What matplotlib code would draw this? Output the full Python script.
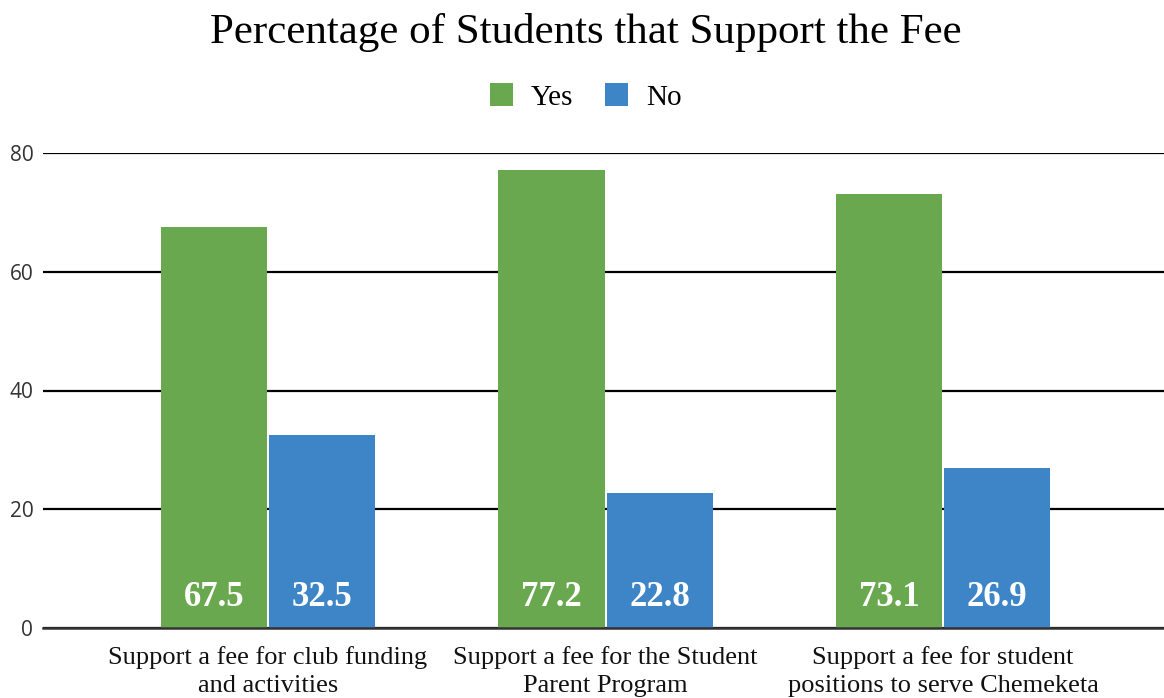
import matplotlib.pyplot as plt
import numpy as np

categories = ['Support a fee for club funding\nand activities',
              'Support a fee for the Student\nParent Program',
              'Support a fee for student\npositions to serve Chemeketa']
yes_values = [67.5, 77.2, 73.1]
no_values = [32.5, 22.8, 26.9]
yticks = [0, 20, 40, 60, 80]

green = '#6aa84f'
blue = '#3d85c6'

fig = plt.figure(figsize=(11.64, 6.98), dpi=100)
ax = fig.add_axes([43 / 1164, 1 - 628 / 698, 1 - 43 / 1164, (628 - 153) / 698])

x = np.arange(len(categories))
w = 0.314
b1 = ax.bar(x - w / 2 - 0.003, yes_values, w, color=green, label='Yes', zorder=3)
b2 = ax.bar(x + w / 2 + 0.003, no_values, w, color=blue, label='No', zorder=3)

for bars, vals in [(b1, yes_values), (b2, no_values)]:
    for bar, v in zip(bars, vals):
        ax.annotate(f'{v}', (bar.get_x() + bar.get_width() / 2, 0),
                    xytext=(0, 22), textcoords='offset points',
                    ha='center', va='center', color='white',
                    fontsize=25, fontweight='bold', family='Liberation Serif', zorder=4)

ax.set_xlim(-0.666, 2.654)
ax.set_ylim(0, 80)
ax.set_yticks(yticks)
ax.set_yticklabels([str(t) for t in yticks], fontsize=15, color='#333333', family='Open Sans')
ax.set_xticks(x)
ax.set_xticklabels(categories, fontsize=19, family='Liberation Serif', color='#111111',
                   linespacing=1.35)
ax.tick_params(axis='y', length=0, pad=7)
ax.tick_params(axis='x', length=0, pad=13)
ax.grid(axis='y', color='black', linewidth=1.6, zorder=0)
for s in ['top', 'right', 'left']:
    ax.spines[s].set_visible(False)
ax.spines['bottom'].set_color('#333333')
ax.spines['bottom'].set_linewidth(1.8)
ax.spines['bottom'].set_zorder(5)

fig.text(0.503, 1 - 33 / 698, 'Percentage of Students that Support the Fee',
         ha='center', va='center', fontsize=31, family='Liberation Serif')
fig.legend(loc='center', bbox_to_anchor=(0.503, 1 - 97 / 698), ncol=2, frameon=False,
           prop={'family': 'Liberation Serif', 'size': 21}, handlelength=0.8,
           handleheight=0.8, handletextpad=0.6, columnspacing=1.1)

fig.savefig('out.png', dpi=100)
